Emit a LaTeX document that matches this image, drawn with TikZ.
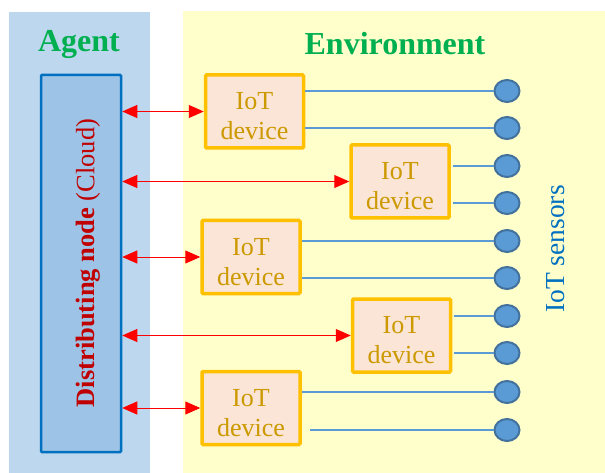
\documentclass[tikz,border=0pt]{standalone}
\usepackage{fontspec}
\setmainfont{Liberation Serif}
\usetikzlibrary{arrows.meta,shapes.geometric}

\definecolor{agentbg}{RGB}{189,215,238}
\definecolor{envbg}{RGB}{255,255,204}
\definecolor{cloudfill}{RGB}{157,195,230}
\definecolor{cloudline}{RGB}{0,112,192}
\definecolor{devfill}{RGB}{251,229,214}
\definecolor{devline}{RGB}{255,192,0}
\definecolor{devtext}{RGB}{204,153,0}
\definecolor{sensfill}{RGB}{91,155,213}
\definecolor{sensline}{RGB}{65,113,156}
\definecolor{titlegreen}{RGB}{0,176,80}
\definecolor{darkred}{RGB}{192,0,0}

\begin{document}
\begin{tikzpicture}[x=1pt,y=-1pt,
  device/.style={draw=devline, fill=devfill, line width=3.5pt, rounded corners=1pt,
    minimum width=98pt, minimum height=73pt, align=center, text=devtext,
    font=\fontsize{26}{30}\selectfont, inner sep=0pt, text height=56pt, text depth=0pt},
  sensor/.style={ellipse, draw=sensline, fill=sensfill, line width=2pt,
    minimum width=25pt, minimum height=22pt, inner sep=0pt},
  wire/.style={sensfill, line width=1.3pt},
  link/.style={red, line width=1pt, {Triangle[length=15pt,width=13pt]}-{Triangle[length=15pt,width=13pt]}},
  title/.style={text=titlegreen, font=\fontsize{32}{32}\selectfont\bfseries}]
\useasboundingbox (0,0) rectangle (605,473);

\fill[agentbg] (9,12) rectangle (150,473);
\fill[envbg] (183,11) rectangle (605,473);

\node[title] (agent) at (79,44) {Agent};
\node[title] (env) at (395,44) {Environment};

\node[draw=cloudline, fill=cloudfill, line width=2.5pt, rounded corners=1pt,
  minimum width=80pt, minimum height=377pt] (cloud) at (81,263.5) {};
\node[rotate=90, text=darkred, font=\fontsize{26.5}{26.5}\selectfont] (cloudlbl) at (88,263)
  {\textbf{Distributing node} (Cloud)};

\node[device] (dev1) at (254.5,111.5) {IoT\\device};
\node[device] (dev2) at (400,181.5) {IoT\\device};
\node[device] (dev3) at (251,257) {IoT\\device};
\node[device] (dev4) at (401.5,335.5) {IoT\\device};
\node[device] (dev5) at (251,408) {IoT\\device};

\foreach \i/\y in {1/91,2/128,3/166,4/203,5/241,6/278,7/316,8/353,9/392,10/430}
  \node[sensor] (s\i) at (507,\y) {};

\node[rotate=90, text=cloudline, font=\fontsize{27.5}{27.5}\selectfont] (senslbl) at (556,249) {IoT sensors};

\draw[wire] (s1 -| dev1.east) -- (s1);
\draw[wire] (s2 -| dev1.east) -- (s2);
\draw[wire] ([xshift=2pt]s3 -| dev2.east) -- (s3);
\draw[wire] ([xshift=2pt]s4 -| dev2.east) -- (s4);
\draw[wire] (s5 -| dev3.east) -- (s5);
\draw[wire] (s6 -| dev3.east) -- (s6);
\draw[wire] ([xshift=2pt]s7 -| dev4.east) -- (s7);
\draw[wire] ([xshift=2pt]s8 -| dev4.east) -- (s8);
\draw[wire] (s9 -| dev5.east) -- (s9);
\draw[wire] ([xshift=8pt]s10 -| dev5.east) -- (s10);

\foreach \d in {1,...,5}
  \draw[link] (dev\d.west -| cloud.east) -- (dev\d.west);

\end{tikzpicture}
\end{document}
